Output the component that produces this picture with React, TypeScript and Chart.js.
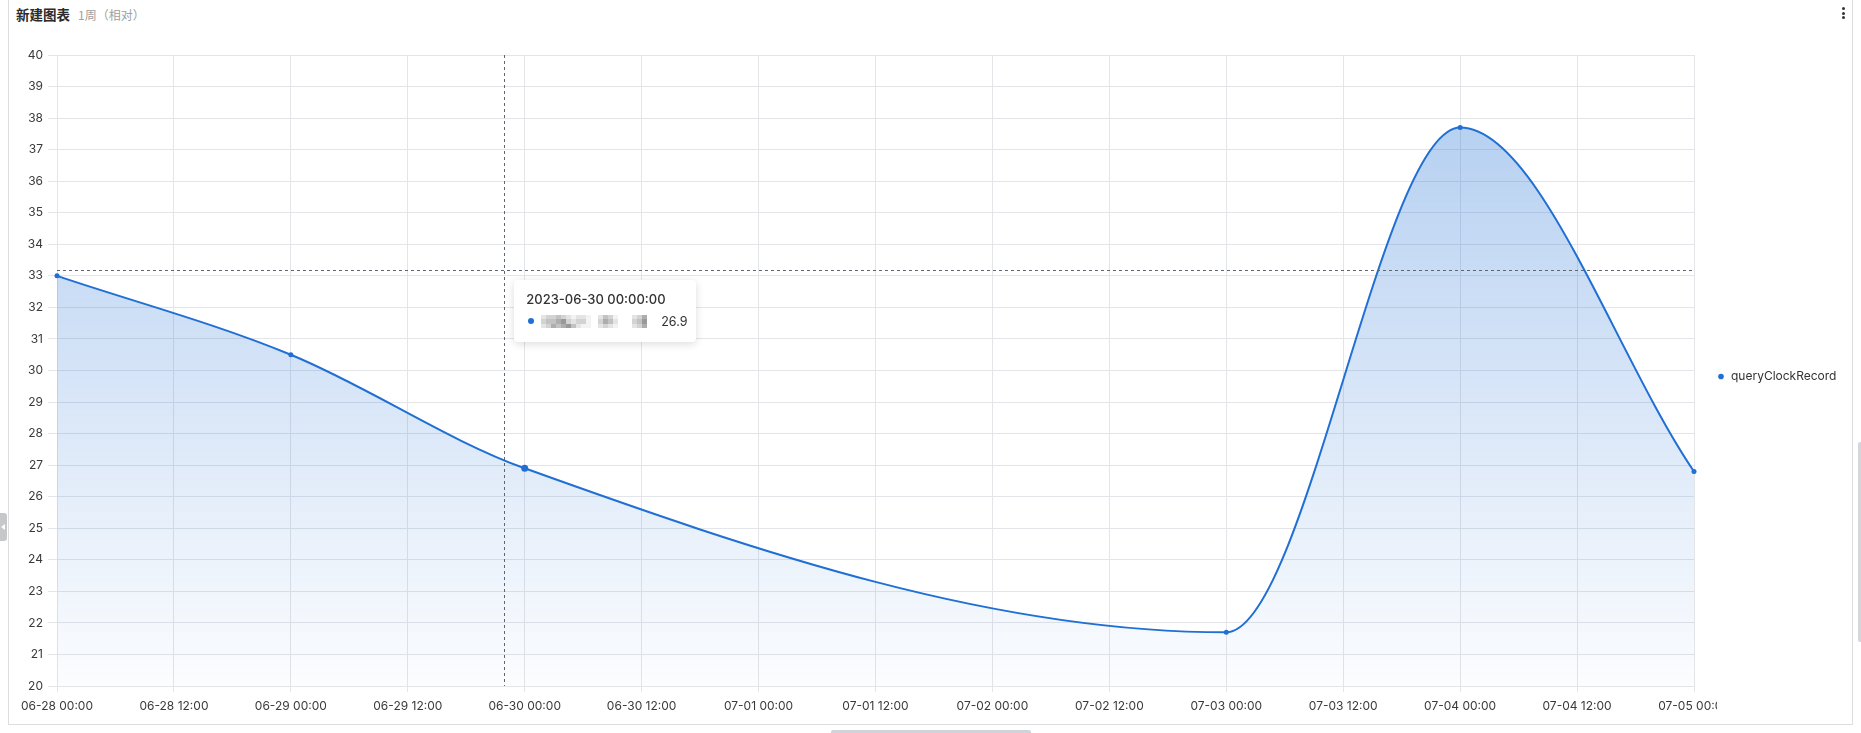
import React, { useEffect, useRef } from 'react';
import { Chart, registerables } from 'chart.js';

Chart.register(...registerables);

// ---------- data ----------
const chartTitle = '新建图表';
const chartSubtitle = '1周（相对）';
const seriesName = 'queryClockRecord';
const startTime = '2023-06-28 00:00';
const pointTimes = [
  '2023-06-28 00:00',
  '2023-06-29 00:00',
  '2023-06-30 00:00',
  '2023-07-03 00:00',
  '2023-07-04 00:00',
  '2023-07-05 00:00',
];
const pointValues = [33, 30.5, 26.9, 21.7, 37.7, 26.8];
const xTickLabels = [
  '06-28 00:00', '06-28 12:00', '06-29 00:00', '06-29 12:00', '06-30 00:00',
  '06-30 12:00', '07-01 00:00', '07-01 12:00', '07-02 00:00', '07-02 12:00',
  '07-03 00:00', '07-03 12:00', '07-04 00:00', '07-04 12:00', '07-05 00:00',
];
const xStepHours = 12;
const xMaxHours = 168;
const yMin = 20;
const yMax = 40;
const yStep = 1;
// hover state shown in the picture
const activeIndex = 2;
const tooltipTitle = '2023-06-30 00:00:00';
const cursorHours = 45.9;
const cursorValue = 33.17;

// ---------- helpers ----------
const toMs = (s: string) => {
  const [d, t] = s.split(' ');
  const [Y, M, D] = d.split('-').map(Number);
  const [h, m] = t.split(':').map(Number);
  return Date.UTC(Y, M - 1, D, h, m);
};
const hoursFromStart = (s: string) => (toMs(s) - toMs(startTime)) / 3600000;

const LINE = '#1f6fd4';
const GRID = '#e4e5e8';
const TICK = '#3a3a3a';
const FONT = 'Inter, "Noto Sans", sans-serif';

const W = 1861;
const H = 733;
const PLOT_LEFT = 57;
const PLOT_TOP = 55;
const PLOT_BOTTOM = 686;
const LEGEND_W = 167;

// mosaic of the obscured label in tooltip
const mosaicGroups = [
  { w: 10, rows: ['1223210110', '2334521220', '1243453100'] },
  { w: 4, rows: ['1320', '2431', '1210'] },
  { w: 3, rows: ['124', '235', '124'] },
];
const mosaicShades = ['#f3f3f3', '#e4e4e4', '#d3d3d3', '#c2c2c2', '#adadad', '#999999'];

export default function App() {
  const canvasRef = useRef<HTMLCanvasElement | null>(null);
  const tipRef = useRef<HTMLDivElement | null>(null);

  useEffect(() => {
    const canvas = canvasRef.current;
    if (!canvas) return;
    const xs = pointTimes.map(hoursFromStart);

    const crosshair = {
      id: 'crosshair',
      afterInit(chart: any) {
        const lg = chart.legend;
        if (lg && !lg.__patched) {
          const orig = lg.fit.bind(lg);
          lg.fit = function () {
            orig();
            this.width = LEGEND_W;
          };
          lg.__patched = true;
        }
      },
      afterDatasetsDraw(chart: any) {
        const { ctx, chartArea, scales } = chart;
        const px = scales.x.getPixelForValue(cursorHours);
        const py = scales.y.getPixelForValue(cursorValue);
        ctx.save();
        ctx.strokeStyle = '#5f6670';
        ctx.lineWidth = 1;
        ctx.setLineDash([3, 3]);
        ctx.beginPath();
        ctx.moveTo(Math.round(px) + 0.5, chartArea.top);
        ctx.lineTo(Math.round(px) + 0.5, chartArea.bottom);
        ctx.moveTo(chartArea.left, Math.round(py) + 0.5);
        ctx.lineTo(chartArea.right, Math.round(py) + 0.5);
        ctx.stroke();
        ctx.restore();
      },
      afterDraw(chart: any) {
        const { ctx, chartArea } = chart;
        // last tick label is cut at the legend boundary in the reference
        const cx = chartArea.right + 23;
        ctx.clearRect(cx, chartArea.bottom + 8, W - cx, H - chartArea.bottom - 8);
      },
    };

    const chart = new Chart(canvas, {
      type: 'line',
      data: {
        datasets: [
          {
            label: seriesName,
            data: xs.map((x, i) => ({ x, y: pointValues[i] })),
            borderColor: LINE,
            borderWidth: 2,
            pointBackgroundColor: LINE,
            pointBorderColor: LINE,
            pointBorderWidth: 0,
            pointRadius: (c: any) => (c.dataIndex === activeIndex ? 3.5 : 2.5),
            cubicInterpolationMode: 'monotone',
            clip: 4,
            fill: 'start',
            backgroundColor: (c: any) => {
              const area = c.chart.chartArea;
              if (!area) return 'rgba(31,111,212,0.2)';
              const g = c.chart.ctx.createLinearGradient(0, area.top, 0, area.bottom);
              g.addColorStop(0, 'rgba(31,111,212,0.36)');
              g.addColorStop(1, 'rgba(31,111,212,0.015)');
              return g;
            },
          },
        ],
      },
      options: {
        responsive: false,
        animation: false,
        events: [],
        layout: { padding: { top: PLOT_TOP, left: 0, right: 0, bottom: 0 } },
        scales: {
          x: {
            type: 'linear',
            min: 0,
            max: xMaxHours,
            afterFit: (s: any) => {
              s.height = H - PLOT_BOTTOM;
            },
            ticks: {
              stepSize: xStepHours,
              autoSkip: false,
              maxRotation: 0,
              padding: 7,
              color: TICK,
              font: { family: FONT, size: 12 },
              callback: (v: any) => xTickLabels[Math.round(Number(v) / xStepHours)] ?? '',
            },
            grid: { color: GRID, tickLength: 6, drawTicks: true },
            border: { color: GRID },
          },
          y: {
            min: yMin,
            max: yMax,
            afterFit: (s: any) => {
              s.width = PLOT_LEFT;
            },
            ticks: {
              stepSize: yStep,
              padding: 5,
              color: TICK,
              font: { family: FONT, size: 12 },
            },
            grid: { color: GRID, tickLength: 9 },
            border: { color: GRID },
          },
        },
        plugins: {
          legend: {
            position: 'right',
            align: 'center',
            fullSize: false,
            title: { display: true, text: ' ', font: { size: 10 }, padding: 0 },
            labels: {
              usePointStyle: true,
              pointStyle: 'circle',
              boxWidth: 8,
              boxHeight: 4,
              padding: 23,
              color: '#333',
              font: { family: FONT, size: 12 },
            },
          },
          tooltip: { enabled: false },
        },
      },
      plugins: [crosshair],
    } as any);

    const tip = tipRef.current;
    if (tip) {
      const px = chart.scales.x.getPixelForValue(cursorHours);
      const py = chart.scales.y.getPixelForValue(cursorValue);
      tip.style.left = `${px + 10}px`;
      tip.style.top = `${py + 10}px`;
      tip.style.display = 'block';
    }

    return () => chart.destroy();
  }, []);

  return (
    <div
      style={{
        position: 'absolute',
        left: 0,
        top: 0,
        width: W,
        height: H,
        overflow: 'hidden',
        background: '#fff',
        fontFamily: FONT,
      }}
    >
      {/* card */}
      <div
        style={{
          position: 'absolute',
          left: 8,
          top: -1,
          width: 1845,
          height: 726,
          border: '1px solid #dcdde0',
          boxSizing: 'border-box',
          background: '#fff',
        }}
      />
      {/* title */}
      <div
        style={{
          position: 'absolute',
          left: 16,
          top: 4,
          lineHeight: '18px',
          whiteSpace: 'nowrap',
          fontFamily: '"Noto Sans CJK SC", sans-serif',
        }}
      >
        <span style={{ fontSize: 13.5, fontWeight: 700, color: '#2b2b2b' }}>{chartTitle}</span>
        <span style={{ fontSize: 12, color: '#a0a0a0', marginLeft: 8 }}>{chartSubtitle}</span>
      </div>
      {/* menu dots */}
      <div style={{ position: 'absolute', left: 1842, top: 7 }}>
        {[0, 1, 2].map((i) => (
          <div
            key={i}
            style={{ width: 3, height: 3, borderRadius: 2, background: '#333', marginBottom: 1.5 }}
          />
        ))}
      </div>
      {/* left collapse tab */}
      <div
        style={{
          position: 'absolute',
          left: 0,
          top: 513,
          width: 7,
          height: 28,
          background: '#c6c7c9',
          borderRadius: '0 3px 3px 0',
        }}
      >
        <div
          style={{
            position: 'absolute',
            left: 1,
            top: 11,
            width: 0,
            height: 0,
            borderTop: '3px solid transparent',
            borderBottom: '3px solid transparent',
            borderRight: '4px solid #fff',
          }}
        />
      </div>
      {/* scrollbars */}
      <div
        style={{
          position: 'absolute',
          left: 1858,
          top: 442,
          width: 4,
          height: 200,
          background: '#d3d6db',
          borderRadius: 2,
        }}
      />
      <div
        style={{
          position: 'absolute',
          left: 831,
          top: 730,
          width: 200,
          height: 5,
          background: '#d0d4da',
          borderRadius: 2,
        }}
      />
      <canvas
        ref={canvasRef}
        width={W}
        height={H}
        style={{ position: 'absolute', left: 0, top: 0, width: W, height: H }}
      />
      {/* tooltip */}
      <div
        ref={tipRef}
        style={{
          display: 'none',
          position: 'absolute',
          width: 182,
          boxSizing: 'border-box',
          padding: '10px 13px 12px 12px',
          background: '#fff',
          borderRadius: 4,
          boxShadow: '0 2px 8px rgba(0,0,0,0.14)',
          fontFamily: FONT,
          color: '#333',
        }}
      >
        <div style={{ fontSize: 13, fontWeight: 500, lineHeight: '18px', whiteSpace: 'nowrap' }}>
          {tooltipTitle}
        </div>
        <div
          style={{
            marginTop: 4,
            height: 18,
            display: 'flex',
            alignItems: 'center',
            fontSize: 12,
          }}
        >
          <div
            style={{
              width: 6,
              height: 6,
              flexShrink: 0,
              borderRadius: 3,
              background: LINE,
              marginLeft: 2,
            }}
          />
          <div style={{ display: 'flex', alignItems: 'center', marginLeft: 7, flexShrink: 0 }}>
            {mosaicGroups.map((g, gi) => (
              <div
                key={gi}
                style={{ marginRight: gi === 0 ? 7 : 14, display: 'flex', flexDirection: 'column' }}
              >
                {g.rows.map((r, ri) => (
                  <div key={ri} style={{ display: 'flex' }}>
                    {r.split('').map((c, ci) => (
                      <div
                        key={ci}
                        style={{ width: 5, height: 4.5, flexShrink: 0, background: mosaicShades[Number(c)] }}
                      />
                    ))}
                  </div>
                ))}
              </div>
            ))}
          </div>
          <div style={{ marginLeft: 'auto', fontSize: 12.5 }}>
            {pointValues[activeIndex].toFixed(1)}
          </div>
        </div>
      </div>
    </div>
  );
}
